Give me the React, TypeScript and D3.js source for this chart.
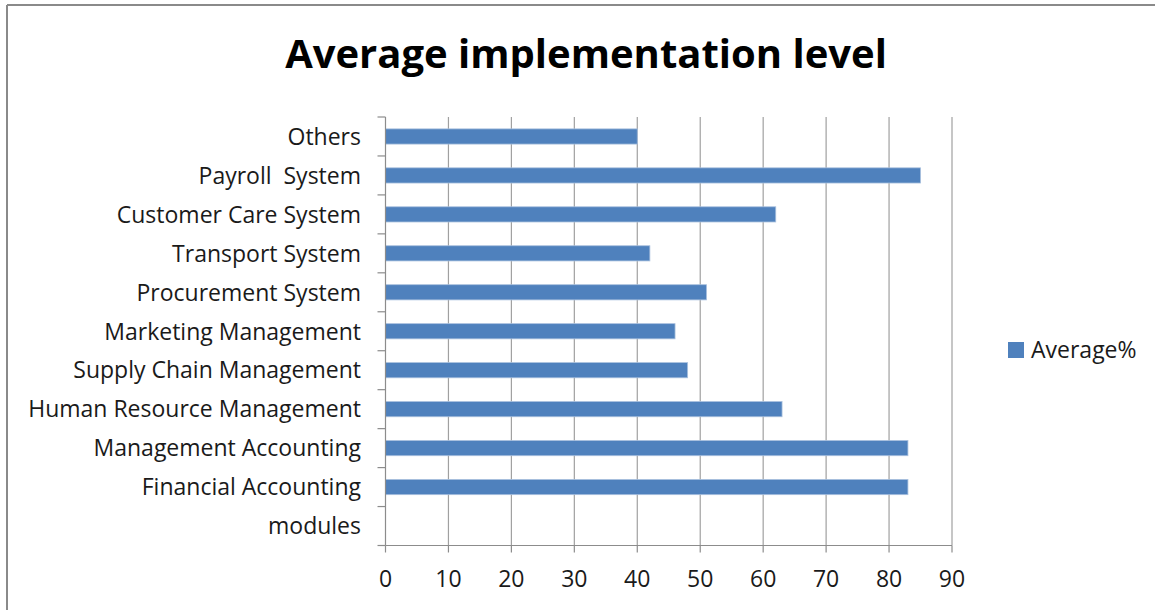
import React from "react";
import * as d3 from "d3";

// Categories listed bottom to top, as they appear on the vertical axis
const categories = [
  "modules",
  "Financial Accounting",
  "Management Accounting",
  "Human Resource Management",
  "Supply Chain Management",
  "Marketing Management",
  "Procurement System",
  "Transport System",
  "Customer Care System",
  "Payroll  System",
  "Others",
];

// Average implementation level (%) per category; "modules" has no value
const averageValues: (number | null)[] = [null, 83, 83, 63, 48, 46, 51, 42, 62, 85, 40];

const xTicks = [0, 10, 20, 30, 40, 50, 60, 70, 80, 90];

const seriesName = "Average%";
const chartTitle = "Average implementation level";

const W = 1155;
const H = 610;
const FONT = "'Open Sans', 'Noto Sans', sans-serif";
const LABEL_SIZE = 23;

export default function App() {
  const left = 385.5;
  const right = 952;
  const top = 117;
  const bottom = 545.5;

  const x = d3.scaleLinear().domain([0, 90]).range([left, right]);
  const y = d3
    .scaleBand<string>()
    .domain(categories)
    .range([bottom, top])
    .paddingInner(0.61)
    .paddingOuter(0.305);

  const step = (bottom - top) / categories.length;
  const boundaries = d3.range(categories.length + 1).map((i) => top + i * step);

  return (
    <svg
      width={W}
      height={H}
      style={{ position: "absolute", left: 0, top: 0, background: "#fff" }}
      fontFamily={FONT}
    >
      <rect x={0} y={0} width={W} height={H} fill="#fff" />
      {/* chart frame */}
      <line x1={7} y1={5} x2={W} y2={5} stroke="#8a8a8a" strokeWidth={2} />
      <line x1={7} y1={5} x2={7} y2={H} stroke="#8a8a8a" strokeWidth={2} />

      <text
        x={586}
        y={68}
        textAnchor="middle"
        fontSize={40}
        fontWeight={700}
        fill="#000"
      >
        {chartTitle}
      </text>

      {/* vertical gridlines */}
      {xTicks.slice(1).map((t) => (
        <line
          key={"g" + t}
          x1={x(t)}
          x2={x(t)}
          y1={top}
          y2={bottom}
          stroke="#a0a0a0"
          strokeWidth={1.2}
        />
      ))}

      {/* bars */}
      {categories.map((c, i) => {
        const v = averageValues[i];
        if (v == null) return null;
        return (
          <rect
            key={c}
            x={x(0)}
            y={y(c)!}
            width={x(v) - x(0)}
            height={y.bandwidth()}
            fill="#4f81bd"
            stroke="#a9c0de"
            strokeWidth={0.8}
          />
        );
      })}

      {/* vertical axis */}
      <line x1={left} x2={left} y1={top} y2={bottom} stroke="#8c8c8c" strokeWidth={1.2} />
      {boundaries.map((b, i) => (
        <line key={"yt" + i} x1={left - 8} x2={left} y1={b} y2={b} stroke="#8c8c8c" strokeWidth={1.2} />
      ))}
      {categories.map((c) => (
        <text
          key={"yl" + c}
          x={361}
          y={y(c)! + y.bandwidth() / 2}
          dy="0.36em"
          textAnchor="end"
          fontSize={LABEL_SIZE}
          fill="#1a1a1a"
          style={{ whiteSpace: "pre" }}
        >
          {c}
        </text>
      ))}

      {/* horizontal axis */}
      <line x1={left} x2={right} y1={bottom} y2={bottom} stroke="#8c8c8c" strokeWidth={1.2} />
      {xTicks.map((t) => (
        <g key={"xt" + t}>
          <line x1={x(t)} x2={x(t)} y1={bottom} y2={bottom + 7} stroke="#8c8c8c" strokeWidth={1.2} />
          <text x={x(t)} y={579} dy="0.36em" textAnchor="middle" fontSize={LABEL_SIZE} fill="#1a1a1a">
            {t}
          </text>
        </g>
      ))}

      {/* legend */}
      <rect x={1008} y={342} width={16} height={16} fill="#4f81bd" />
      <text x={1031} y={350} dy="0.36em" fontSize={LABEL_SIZE} fill="#1a1a1a">
        {seriesName}
      </text>
    </svg>
  );
}
